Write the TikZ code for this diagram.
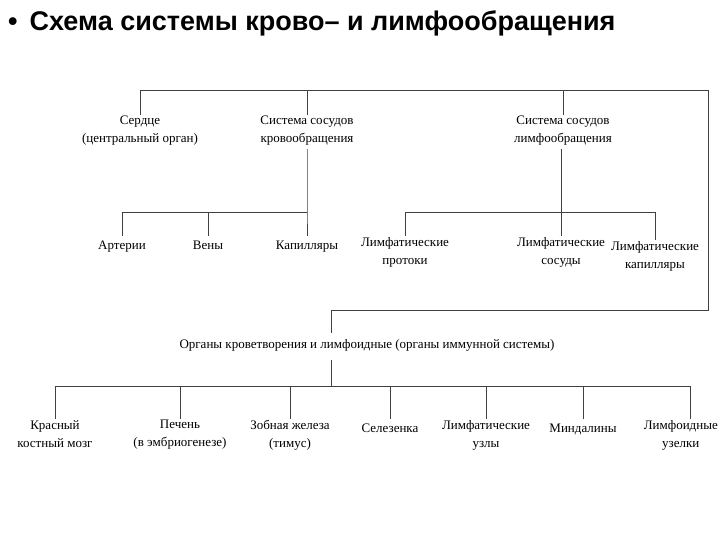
\documentclass[tikz,border=0pt]{standalone}
\usepackage{fontspec}
\setmainfont{Liberation Serif}
\newfontfamily\titlefont{Liberation Sans}
\begin{document}
\begin{tikzpicture}[x=1pt,y=-1pt,
  lbl/.style={font=\fontsize{13}{18}\selectfont,align=center,inner sep=1pt,anchor=north,execute at begin node=\strut},
  ln/.style={draw=black!75,line width=0.9pt}]
\useasboundingbox (0,0) rectangle (720,540);
\node[anchor=west,font=\titlefont\bfseries\fontsize{27}{30}\selectfont,inner sep=0pt] (title) at (8,23) {•\ \,Схема системы крово– и лимфообращения};
% level 1
\node[lbl] (heart) at (140,115) {Сердце\\(центральный орган)};
\node[lbl] (blood) at (307,115) {Система сосудов\\кровообращения};
\node[lbl] (lymph) at (563,115) {Система сосудов\\лимфообращения};
\coordinate (tl) at (140,90); \coordinate (tr) at (708,90);
\coordinate (rb) at (708,310); \coordinate (ob) at (331,310);
\draw[ln] (heart.north) -- (tl) -- (tr) -- (rb) -- (ob) -- (331,333);
\draw[ln] (307,90) -- (blood.north);
\draw[ln] (563,90) -- (lymph.north);
% blood vessels
\node[lbl] (art) at (122,236) {Артерии};
\node[lbl] (ven) at (208,236) {Вены};
\node[lbl] (cap) at (307,236) {Капилляры};
\coordinate (b1) at (122,212); \coordinate (b2) at (208,212); \coordinate (b3) at (307,212);
\draw[ln] (blood.south) -- (b3) -- (cap.north);
\draw[ln] (b3) -- (b1) -- (art.north);
\draw[ln] (b2) -- (ven.north);
% lymph vessels
\node[lbl] (lp) at (405,236) {Лимфатические\\протоки};
\node[lbl] (ls) at (561,236) {Лимфатические\\сосуды};
\node[lbl] (lc) at (655,240) {Лимфатические\\капилляры};
\coordinate (l1) at (405,212); \coordinate (l2) at (561,212); \coordinate (l3) at (655,212);
\draw[ln] (lymph.south -| l2) -- (ls.north);
\draw[ln] (lp.north) -- (l1) -- (l3) -- (lc.north);
% organs
\node[lbl] (org) at (367,335) {Органы кроветворения и лимфоидные (органы иммунной системы)};
\draw[ln] (331,360) -- (331,386);
\coordinate (o1) at (55,386); \coordinate (o7) at (690,386);
\draw[ln] (o1) -- (o7);
\foreach \x/\n/\t in {55/a/{Красный\\костный мозг},180/b/{Печень\\(в эмбриогенезе)},290/c/{Зобная железа\\(тимус)},390/d/{Селезенка},486/e/{Лимфатические\\узлы},583/f/{Миндалины}}{
  \node[lbl] (o\n) at (\x,419) {\t};
  \draw[ln] (\x,386) -- (o\n.north);
}
\node[lbl,anchor=north east] (og) at (719,419) {Лимфоидные\\узелки};
\draw[ln] (690,386) -- (690,419);
\end{tikzpicture}
\end{document}
